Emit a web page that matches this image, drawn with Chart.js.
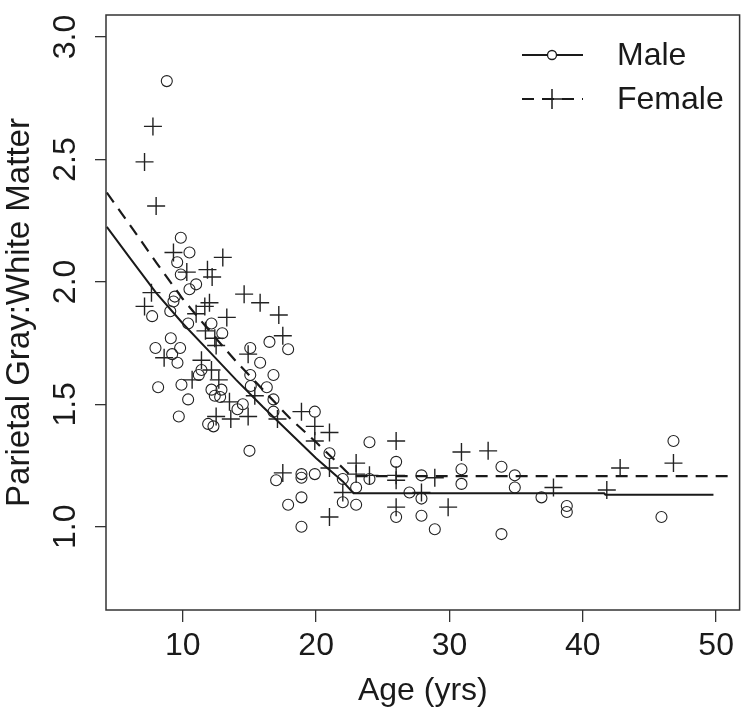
<!DOCTYPE html>
<html>
<head>
<meta charset="utf-8">
<script src="https://cdn.jsdelivr.net/npm/chart.js@4/dist/chart.umd.min.js"></script>
<style>
  body { margin: 0; background: #fff; }
  #wrap { width: 750px; height: 715px; }
</style>
</head>
<body>
<div id="wrap"><canvas id="ratioChart"></canvas></div>
<script>
// Data
var maleAge = [8.8, 9.85, 10.5, 9.58, 9.85, 11.0, 10.5, 9.4, 9.3, 7.7, 9.06, 12.15, 10.4, 12.96, 16.5, 17.9,
  15.06, 15.8, 9.1, 7.95, 9.8, 9.2, 9.6, 11.4, 15.06, 16.8, 11.2, 9.9, 8.15, 15.1, 16.3, 12.15, 12.9, 12.4,
  12.8, 10.4, 16.8, 14.5, 14.1, 16.8, 9.7, 11.9, 12.3, 19.9, 15.0, 17.0, 18.9, 18.9, 19.9, 18.9, 17.9, 18.9,
  21.0, 22.0, 22.0, 23.0, 23.0, 24.0, 24.0, 26.0, 26.0, 27.0, 27.9, 27.9, 27.9, 28.9, 30.9, 30.9, 33.9, 33.9,
  34.9, 34.9, 36.9, 38.8, 38.8, 45.9, 46.8];
var maleRatio = [2.82, 2.18, 2.12, 2.08, 2.03, 1.99, 1.97, 1.94, 1.92, 1.86, 1.88, 1.83, 1.83, 1.79, 1.755, 1.725,
  1.73, 1.67, 1.77, 1.73, 1.73, 1.705, 1.67, 1.64, 1.62, 1.62, 1.62, 1.58, 1.57, 1.575, 1.57, 1.56, 1.56, 1.535,
  1.53, 1.52, 1.52, 1.50, 1.48, 1.47, 1.45, 1.42, 1.41, 1.47, 1.31, 1.19, 1.215, 1.20, 1.215, 1.12, 1.09, 1.00,
  1.30, 1.195, 1.10, 1.16, 1.09, 1.195, 1.345, 1.265, 1.04, 1.14, 1.21, 1.115, 1.045, 0.99, 1.235, 1.175, 1.245, 0.97,
  1.21, 1.16, 1.12, 1.085, 1.06, 1.04, 1.35];

var femaleAge = [7.76, 7.13, 8.0, 9.3, 10.3, 11.85, 12.2, 13.0, 14.6, 15.8, 7.65, 7.13, 17.2, 12.0, 11.65, 13.3,
  11.0, 12.4, 17.5, 14.9, 8.6, 11.4, 12.15, 10.7, 12.7, 13.5, 15.4, 17.1, 14.9, 13.6, 12.5, 18.9, 19.9, 21.0,
  19.9, 17.5, 21.0, 21.0, 22.0, 23.0, 23.0, 24.0, 26.0, 26.0, 26.0, 26.0, 27.9, 28.9, 29.9, 30.9, 32.9, 37.8,
  41.8, 42.8, 46.8, 11.7, 12.5];
var femaleRatio = [2.635, 2.49, 2.31, 2.12, 2.04, 2.05, 2.02, 2.10, 1.95, 1.915, 1.956, 1.90, 1.865, 1.915, 1.90, 1.855,
  1.87, 1.77, 1.78, 1.705, 1.69, 1.68, 1.64, 1.60, 1.60, 1.51, 1.535, 1.44, 1.45, 1.44, 1.45, 1.47, 1.41, 1.385,
  1.35, 1.22, 1.24, 1.04, 1.14, 1.26, 1.215, 1.21, 1.35, 1.21, 1.19, 1.08, 1.14, 1.20, 1.08, 1.305, 1.31, 1.16,
  1.15, 1.24, 1.26, 1.80, 1.74];

// fitted curves
var maleFitAge = [4.3, 6, 8, 10, 12, 14, 16, 18, 20, 22, 22.8, 30, 41.6, 41.7, 49.8];
var maleFitRatio = [2.225, 2.10, 1.955, 1.83, 1.715, 1.60, 1.49, 1.385, 1.28, 1.185, 1.137, 1.137, 1.137, 1.131, 1.131];
var femaleFitAge = [4.3, 6, 8, 10, 12, 14, 16, 18, 20, 22, 22.6, 51];
var femaleFitRatio = [2.365, 2.235, 2.08, 1.93, 1.80, 1.675, 1.56, 1.445, 1.345, 1.24, 1.207, 1.207];

var xTicks = [10, 20, 30, 40, 50];
var yTicks = [1.0, 1.5, 2.0, 2.5, 3.0];
var yTickLabels = ["1.0", "1.5", "2.0", "2.5", "3.0"];

var ink = "#1a1a1a";
var fontName = "'Liberation Sans', Arial, sans-serif";

function toPoints(xs, ys) {
  return xs.map(function(x, i) { return {x: x, y: ys[i]}; });
}

// box, rotated y labels and legend
var framePlugin = {
  id: "frame",
  afterDraw: function(chart) {
    var c = chart.ctx;
    var a = chart.chartArea;
    var yScale = chart.scales.y;
    c.save();
    c.strokeStyle = "#333";
    c.lineWidth = 1.5;
    c.strokeRect(a.left, a.top, a.right - a.left, a.bottom - a.top);

    //y tick labels, read bottom to top
    c.fillStyle = ink;
    c.font = "32px " + fontName;
    c.textAlign = "center";
    c.textBaseline = "middle";
    yTicks.forEach(function(v, i) {
      c.save();
      c.translate(66, yScale.getPixelForValue(v));
      c.rotate(-Math.PI / 2);
      c.fillText(yTickLabels[i], 0, 0);
      c.restore();
    });

    //legend
    var lx = a.left + 416, ty = a.top + 40;
    c.strokeStyle = ink;
    c.lineWidth = 2;
    c.beginPath();
    c.moveTo(lx, ty);
    c.lineTo(lx + 61, ty);
    c.stroke();
    c.lineWidth = 1.3;
    c.fillStyle = "#fff";
    c.beginPath();
    c.arc(lx + 30, ty, 4.5, 0, Math.PI * 2);
    c.fill();
    c.stroke();

    var fy = ty + 44;
    c.lineWidth = 2;
    c.setLineDash([12, 8]);
    c.beginPath();
    c.moveTo(lx, fy);
    c.lineTo(lx + 61, fy);
    c.stroke();
    c.setLineDash([]);
    c.lineWidth = 1.5;
    c.beginPath();
    c.moveTo(lx + 21, fy);
    c.lineTo(lx + 40, fy);
    c.moveTo(lx + 30, fy - 10);
    c.lineTo(lx + 30, fy + 10);
    c.stroke();

    c.fillStyle = ink;
    c.font = "32px " + fontName;
    c.textAlign = "left";
    c.textBaseline = "middle";
    c.fillText("Male", lx + 95, ty + 1);
    c.fillText("Female", lx + 95, fy + 1);
    c.restore();
  }
};

var ctx = document.getElementById("ratioChart").getContext("2d");
var chart = new Chart(ctx, {
  type: "scatter",
  data: {
    datasets: [
      {
        label: "Male fit",
        data: toPoints(maleFitAge, maleFitRatio),
        showLine: true,
        borderColor: ink,
        borderWidth: 2,
        pointRadius: 0,
        tension: 0,
      },
      {
        label: "Female fit",
        data: toPoints(femaleFitAge, femaleFitRatio),
        showLine: true,
        borderColor: ink,
        borderWidth: 2.2,
        borderDash: [12, 8],
        pointRadius: 0,
        tension: 0,
      },
      {
        label: "Male",
        data: toPoints(maleAge, maleRatio),
        pointStyle: "circle",
        pointRadius: 5.5,
        pointBorderWidth: 1.1,
        pointBorderColor: "#222",
        pointBackgroundColor: "rgba(0,0,0,0)",
      },
      {
        label: "Female",
        data: toPoints(femaleAge, femaleRatio),
        pointStyle: "cross",
        pointRadius: 9,
        pointBorderWidth: 1.4,
        pointBorderColor: "#222",
      },
    ],
  },
  options: {
    responsive: true,
    maintainAspectRatio: false,
    animation: false,
    layout: { padding: { left: 0, right: 9, top: 15, bottom: 0 } },
    plugins: {
      legend: { display: false },
      tooltip: { enabled: false },
    },
    scales: {
      x: {
        type: "linear",
        min: 4.24,
        max: 51.76,
        afterBuildTicks: function(scale) {
          scale.ticks = xTicks.map(function(v) { return {value: v}; });
        },
        afterFit: function(scale) { scale.height = 105; },
        grid: { drawOnChartArea: false, drawTicks: true, tickLength: 12, color: "#333", lineWidth: 1.3 },
        border: { display: false },
        ticks: {
          color: ink,
          padding: 5,
          maxRotation: 0,
          font: { family: fontName, size: 32 },
        },
        title: {
          display: true,
          text: "Age (yrs)",
          color: ink,
          font: { family: fontName, size: 32 },
          padding: { top: 0, bottom: 5 },
        },
      },
      y: {
        type: "linear",
        min: 0.66,
        max: 3.09,
        afterBuildTicks: function(scale) {
          scale.ticks = yTicks.map(function(v) { return {value: v}; });
        },
        afterFit: function(scale) { scale.width = 106; },
        grid: { drawOnChartArea: false, drawTicks: true, tickLength: 11, color: "#333", lineWidth: 1.3 },
        border: { display: false },
        ticks: { display: false },
        title: {
          display: true,
          text: "Parietal Gray:White Matter",
          color: ink,
          font: { family: fontName, size: 33 },
          padding: { top: 0, bottom: 0 },
        },
      },
    },
  },
  plugins: [framePlugin],
});
</script>
</body>
</html>
